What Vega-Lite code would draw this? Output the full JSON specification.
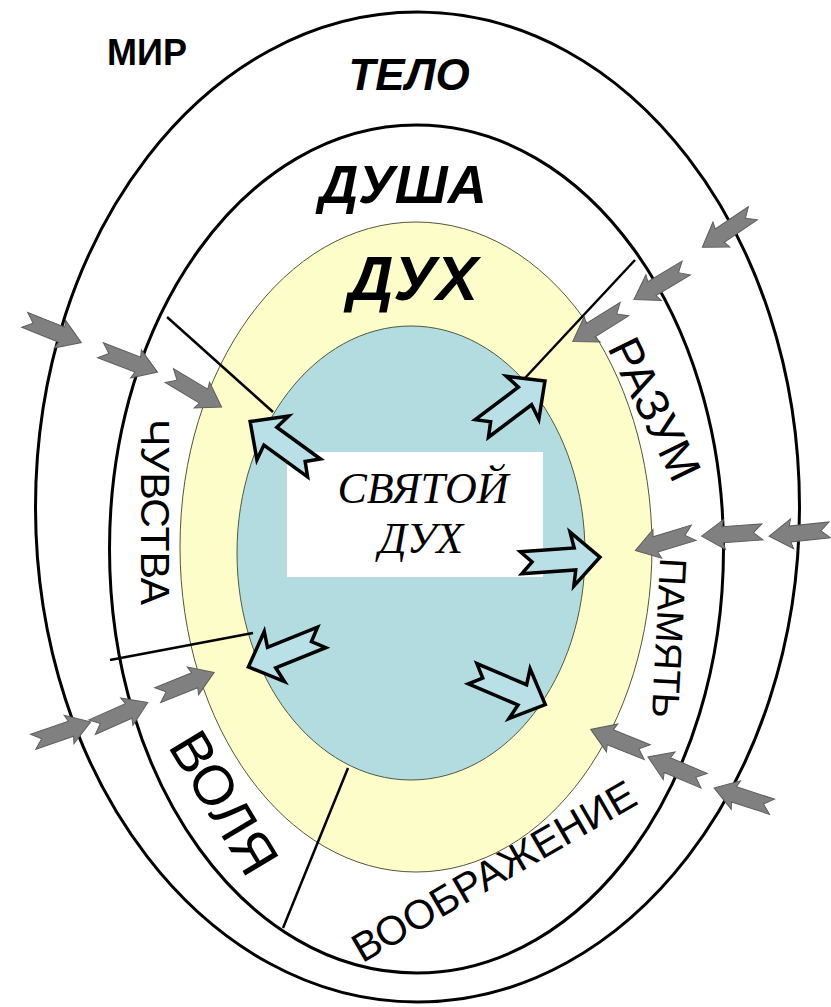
{
  "$schema": "https://vega.github.io/schema/vega-lite/v6.json",
  "width": 831,
  "height": 1007,
  "padding": 0,
  "autosize": "none",
  "background": "white",
  "config": {"view": {"stroke": null}},
  "datasets": {
    "rings": [
      {"ring": "МИР", "cx": 417.5, "cy": 507},
      {"ring": "ДУША", "cx": 416.5, "cy": 549},
      {"ring": "ДУХ", "cx": 416, "cy": 547},
      {"ring": "СВЯТОЙ ДУХ", "cx": 411, "cy": 553}
    ],
    "box": [{"x1": 287, "y1": 452, "x2": 543, "y2": 577}],
    "dividers": [
      {"x1": 167, "y1": 317, "x2": 273, "y2": 412},
      {"x1": 635, "y1": 260, "x2": 525, "y2": 378},
      {"x1": 110, "y1": 660, "x2": 253, "y2": 633},
      {"x1": 348, "y1": 768, "x2": 283, "y2": 928}
    ],
    "inflow": [
      {"group": "ЧУВСТВА", "x": 52.5, "y": 331, "dir": 22},
      {"group": "ЧУВСТВА", "x": 128.5, "y": 361, "dir": 21},
      {"group": "ЧУВСТВА", "x": 195, "y": 391, "dir": 31},
      {"group": "РАЗУМ", "x": 728, "y": 230, "dir": 146},
      {"group": "РАЗУМ", "x": 660.5, "y": 283.5, "dir": 149},
      {"group": "РАЗУМ", "x": 599, "y": 325, "dir": 148},
      {"group": "ПАМЯТЬ", "x": 800, "y": 533, "dir": 174},
      {"group": "ПАМЯТЬ", "x": 732.5, "y": 534, "dir": 176},
      {"group": "ПАМЯТЬ", "x": 665, "y": 541.5, "dir": 163},
      {"group": "ВООБРАЖЕНИЕ", "x": 743.5, "y": 797.5, "dir": 198},
      {"group": "ВООБРАЖЕНИЕ", "x": 676.5, "y": 769, "dir": 203},
      {"group": "ВООБРАЖЕНИЕ", "x": 619.5, "y": 741, "dir": 202},
      {"group": "ВОЛЯ", "x": 61.5, "y": 732, "dir": -19},
      {"group": "ВОЛЯ", "x": 119.5, "y": 715, "dir": -24},
      {"group": "ВОЛЯ", "x": 185.5, "y": 684, "dir": -22}
    ],
    "outflow": [
      {"group": "ЧУВСТВА", "x": 282.5, "y": 445, "dir": 216},
      {"group": "РАЗУМ", "x": 513, "y": 405, "dir": -37},
      {"group": "ПАМЯТЬ", "x": 560, "y": 560, "dir": -4},
      {"group": "ВООБРАЖЕНИЕ", "x": 508.5, "y": 689, "dir": 23},
      {"group": "ВОЛЯ", "x": 285.5, "y": 652, "dir": 158}
    ]
  },
  "layer": [
    {
      "data": {"name": "rings"},
      "transform": [{"filter": "datum.ring === 'МИР'"}],
      "mark": {"type": "point", "filled": true, "opacity": 1, "fill": "white", "stroke": "black", "strokeWidth": 3,
        "shape": "M382,0 C382,273 211,495 0,495 C-211,495 -382,273 -382,0 C-382,-273 -211,-495 0,-495 C211,-495 382,-273 382,0 Z"},
      "encoding": {
        "x": {"field": "cx", "type": "quantitative", "scale": {"domain": [0, 831], "nice": false, "zero": false}, "axis": null},
        "y": {"field": "cy", "type": "quantitative", "scale": {"domain": [0, 1007], "nice": false, "zero": false, "reverse": true}, "axis": null},
        "size": {"value": 4}
      }
    },
    {
      "data": {"name": "rings"},
      "transform": [{"filter": "datum.ring === 'ДУША'"}],
      "mark": {"type": "point", "filled": true, "opacity": 1, "fill": "white", "stroke": "black", "strokeWidth": 3,
        "shape": "M307,0 C307,234 170,424 0,424 C-170,424 -307,234 -307,0 C-307,-234 -170,-424 0,-424 C170,-424 307,-234 307,0 Z"},
      "encoding": {
        "x": {"field": "cx", "type": "quantitative"},
        "y": {"field": "cy", "type": "quantitative"},
        "size": {"value": 4}
      }
    },
    {
      "data": {"name": "rings"},
      "transform": [{"filter": "datum.ring === 'ДУХ'"}],
      "mark": {"type": "point", "filled": true, "opacity": 1, "fill": "#fdfdc9", "stroke": "#55553a", "strokeWidth": 1,
        "shape": "M236,0 C236,180 130,325 0,325 C-130,325 -236,180 -236,0 C-236,-180 -130,-325 0,-325 C130,-325 236,-180 236,0 Z"},
      "encoding": {
        "x": {"field": "cx", "type": "quantitative"},
        "y": {"field": "cy", "type": "quantitative"},
        "size": {"value": 4}
      }
    },
    {
      "data": {"name": "rings"},
      "transform": [{"filter": "datum.ring === 'СВЯТОЙ ДУХ'"}],
      "mark": {"type": "point", "filled": true, "opacity": 1, "fill": "#b3dce1", "stroke": "#4d5a40", "strokeWidth": 1,
        "shape": "M174,0 C174,125 96,227 0,227 C-96,227 -174,125 -174,0 C-174,-125 -96,-227 0,-227 C96,-227 174,-125 174,0 Z"},
      "encoding": {
        "x": {"field": "cx", "type": "quantitative"},
        "y": {"field": "cy", "type": "quantitative"},
        "size": {"value": 4}
      }
    },
    {
      "data": {"name": "box"},
      "mark": {"type": "rect", "fill": "white", "opacity": 1},
      "encoding": {
        "x": {"field": "x1", "type": "quantitative"},
        "x2": {"field": "x2"},
        "y": {"field": "y1", "type": "quantitative"},
        "y2": {"field": "y2"}
      }
    },
    {
      "data": {"name": "dividers"},
      "mark": {"type": "rule", "color": "black", "strokeWidth": 2.5},
      "encoding": {
        "x": {"field": "x1", "type": "quantitative"},
        "x2": {"field": "x2"},
        "y": {"field": "y1", "type": "quantitative"},
        "y2": {"field": "y2"}
      }
    },
    {
      "data": {"values": [{"text": "МИР", "x": 147, "y": 65}]},
      "mark": {"type": "text", "font": "Liberation Sans", "fontWeight": "bold", "fontSize": 36, "baseline": "alphabetic", "align": "center", "color": "black"},
      "encoding": {"x": {"field": "x", "type": "quantitative"}, "y": {"field": "y", "type": "quantitative"}, "text": {"field": "text"}}
    },
    {
      "data": {"values": [{"text": "ТЕЛО", "x": 409, "y": 90}]},
      "mark": {"type": "text", "font": "Liberation Sans", "fontWeight": "bold", "fontStyle": "italic", "fontSize": 44, "baseline": "alphabetic", "align": "center", "color": "black"},
      "encoding": {"x": {"field": "x", "type": "quantitative"}, "y": {"field": "y", "type": "quantitative"}, "text": {"field": "text"}}
    },
    {
      "data": {"values": [{"text": "ДУША", "x": 403, "y": 203}]},
      "mark": {"type": "text", "font": "Liberation Sans", "fontWeight": "bold", "fontStyle": "italic", "fontSize": 54, "baseline": "alphabetic", "align": "center", "color": "black"},
      "encoding": {"x": {"field": "x", "type": "quantitative"}, "y": {"field": "y", "type": "quantitative"}, "text": {"field": "text"}}
    },
    {
      "data": {"values": [{"text": "ДУХ", "x": 413, "y": 300}]},
      "mark": {"type": "text", "font": "Liberation Sans", "fontWeight": "bold", "fontStyle": "italic", "fontSize": 63, "baseline": "alphabetic", "align": "center", "color": "black"},
      "encoding": {"x": {"field": "x", "type": "quantitative"}, "y": {"field": "y", "type": "quantitative"}, "text": {"field": "text"}}
    },
    {
      "data": {"values": [{"text": "СВЯТОЙ", "x": 423, "y": 503}, {"text": "ДУХ", "x": 421, "y": 553}]},
      "mark": {"type": "text", "font": "Liberation Serif", "fontStyle": "italic", "fontSize": 44, "baseline": "alphabetic", "align": "center", "color": "black"},
      "encoding": {"x": {"field": "x", "type": "quantitative"}, "y": {"field": "y", "type": "quantitative"}, "text": {"field": "text"}}
    },
    {
      "data": {"values": [{"text": "ЧУВСТВА", "x": 153, "y": 512}]},
      "mark": {"type": "text", "font": "Liberation Sans", "fontSize": 41, "angle": 90, "baseline": "middle", "align": "center", "color": "black"},
      "encoding": {"x": {"field": "x", "type": "quantitative"}, "y": {"field": "y", "type": "quantitative"}, "text": {"field": "text"}}
    },
    {
      "data": {"values": [{"text": "РАЗУМ", "x": 653, "y": 410}]},
      "mark": {"type": "text", "font": "Liberation Sans", "fontSize": 46, "angle": 64, "baseline": "middle", "align": "center", "color": "black"},
      "encoding": {"x": {"field": "x", "type": "quantitative"}, "y": {"field": "y", "type": "quantitative"}, "text": {"field": "text"}}
    },
    {
      "data": {"values": [{"text": "ПАМЯТЬ", "x": 667, "y": 638}]},
      "mark": {"type": "text", "font": "Liberation Sans", "fontSize": 38, "angle": 93, "baseline": "middle", "align": "center", "color": "black"},
      "encoding": {"x": {"field": "x", "type": "quantitative"}, "y": {"field": "y", "type": "quantitative"}, "text": {"field": "text"}}
    },
    {
      "data": {"values": [{"text": "ВОЛЯ", "x": 222, "y": 804}]},
      "mark": {"type": "text", "font": "Liberation Sans", "fontSize": 56, "angle": 59, "baseline": "middle", "align": "center", "color": "black"},
      "encoding": {"x": {"field": "x", "type": "quantitative"}, "y": {"field": "y", "type": "quantitative"}, "text": {"field": "text"}}
    },
    {
      "data": {"values": [{"text": "ВООБРАЖЕНИЕ", "x": 495, "y": 873}]},
      "mark": {"type": "text", "font": "Liberation Sans", "fontSize": 41, "angle": -30, "baseline": "middle", "align": "center", "color": "black"},
      "encoding": {"x": {"field": "x", "type": "quantitative"}, "y": {"field": "y", "type": "quantitative"}, "text": {"field": "text"}}
    },
    {
      "data": {"name": "inflow"},
      "mark": {"type": "point", "filled": true, "opacity": 1, "fill": "#808080", "stroke": "#5e5e5e", "strokeWidth": 1,
        "shape": "M31,0 L8,-15 L10,-8 L-30,-8 L-21,0 L-30,8 L10,8 L8,15 Z"},
      "encoding": {
        "x": {"field": "x", "type": "quantitative"},
        "y": {"field": "y", "type": "quantitative"},
        "angle": {"field": "dir", "type": "quantitative", "scale": null},
        "size": {"value": 4}
      }
    },
    {
      "data": {"name": "outflow"},
      "mark": {"type": "point", "filled": true, "opacity": 1, "fill": "#b8e0e6", "stroke": "black", "strokeWidth": 3.5, "strokeJoin": "miter",
        "shape": "M40,0 L12,-27 L15,-11 L-39,-11 L-28,0 L-39,11 L15,11 L12,27 Z"},
      "encoding": {
        "x": {"field": "x", "type": "quantitative"},
        "y": {"field": "y", "type": "quantitative"},
        "angle": {"field": "dir", "type": "quantitative", "scale": null},
        "size": {"value": 4}
      }
    }
  ]
}
